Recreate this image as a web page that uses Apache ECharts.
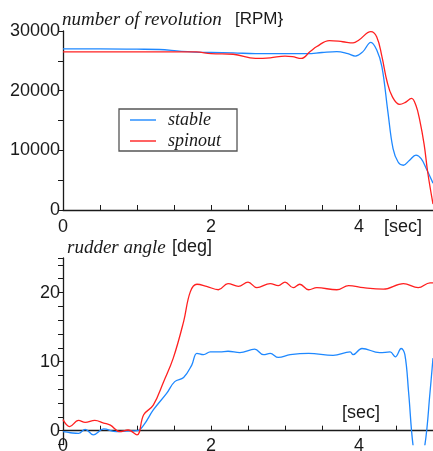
<!DOCTYPE html>
<html>
<head>
<meta charset="utf-8">
<script src="https://cdn.jsdelivr.net/npm/echarts@6.0.0/dist/echarts.min.js"></script>
<style>
  html, body { margin: 0; padding: 0; background: #fff; }
  #chart { width: 433px; height: 451px; }
</style>
</head>
<body>
<div id="chart"></div>
<script>
// number of revolution [RPM]
const rpmStableTime = [0, 0.5, 1.0, 1.3, 1.6, 2.0, 2.3, 2.6, 3.0, 3.3, 3.5, 3.7, 3.85, 3.95, 4.05, 4.16, 4.24, 4.31, 4.39, 4.46, 4.53, 4.6, 4.68, 4.77, 4.84, 4.91, 5.0]
const rpmStable = [27000, 27000, 26950, 26900, 26600, 26400, 26350, 26200, 26200, 26200, 26400, 26550, 26200, 25800, 26500, 28100, 26800, 24000, 16500, 10300, 8000, 7500, 8300, 9200, 8600, 6900, 4500]
const rpmSpinoutTime = [0, 0.5, 1.0, 1.5, 1.8, 2.0, 2.3, 2.6, 2.8, 3.0, 3.1, 3.22, 3.34, 3.43, 3.6, 3.78, 3.92, 4.0, 4.16, 4.24, 4.31, 4.38, 4.45, 4.55, 4.62, 4.71, 4.77, 4.82, 4.88, 4.93, 5.0]
const rpmSpinout = [26500, 26500, 26500, 26500, 26500, 26200, 26100, 25400, 25500, 25800, 25700, 25400, 26550, 27400, 28400, 28200, 28000, 28500, 29900, 29000, 25700, 21500, 19000, 17700, 18000, 18700, 17500, 15100, 11000, 6200, 1000]

// rudder angle [deg]
const rudStableTime = [0, 0.1, 0.21, 0.3, 0.41, 0.55, 0.72, 0.85, 1.0, 1.09, 1.22, 1.4, 1.51, 1.63, 1.74, 1.81, 1.9, 1.99, 2.12, 2.23, 2.39, 2.59, 2.71, 2.8, 2.91, 3.07, 3.32, 3.65, 3.88, 3.92, 4.04, 4.28, 4.42, 4.49, 4.57, 4.62, 4.67, 4.73, 4.8, 4.89, 4.96, 5.0]
const rudStable = [-0.15, -0.3, -0.4, 0.2, -0.6, 0.25, -0.15, -0.05, 0, 0.8, 3.0, 5.4, 7.1, 7.7, 9.5, 11.2, 11.0, 11.4, 11.4, 11.5, 11.3, 11.8, 11.0, 11.2, 10.6, 11.0, 11.2, 10.9, 11.4, 11.0, 11.9, 11.3, 11.4, 10.7, 11.9, 11.0, 5.6, -2.1, -6, -2.1, 5.6, 10.5]
const rudSpinoutTime = [0, 0.09, 0.21, 0.3, 0.43, 0.55, 0.64, 0.77, 0.88, 1.0, 1.09, 1.22, 1.36, 1.49, 1.63, 1.72, 1.81, 1.94, 2.1, 2.23, 2.37, 2.5, 2.62, 2.8, 2.91, 3.0, 3.11, 3.2, 3.32, 3.43, 3.7, 3.86, 4.06, 4.33, 4.6, 4.8, 4.96, 5.0]
const rudSpinout = [1.6, 0.6, 1.5, 1.2, 1.5, 1.1, 0.8, -0.15, 0.1, -0.6, 2.3, 3.7, 7.1, 10.5, 15.8, 20.1, 21.2, 20.9, 20.4, 21.3, 20.9, 21.5, 20.7, 21.3, 21.0, 21.5, 20.7, 21.2, 20.4, 20.7, 20.4, 21.0, 20.7, 20.5, 21.3, 20.7, 21.4, 21.4]

const BLUE = '#1e88ff'
const RED = '#ff2020'
const INK = '#1a1a1a'
const SANS = 'Liberation Sans'
const SERIF = 'Liberation Serif'

const pairs = (ts, vs) => ts.map((t, i) => [t, vs[i]])

const axisLineStyle = { lineStyle: { color: INK, width: 1.3 } }

const xAxisBase = (gridIndex, margin) => ({
  type: 'value',
  gridIndex,
  min: 0,
  max: 5,
  interval: 0.5,
  axisLine: { ...axisLineStyle, onZero: true },
  axisTick: { inside: true, length: 5, lineStyle: { color: INK } },
  splitLine: { show: false },
  axisLabel: {
    margin,
    color: INK,
    fontFamily: SANS,
    fontSize: 18,
    formatter: (v) => (Math.abs(v % 2) < 1e-9 ? String(v) : '')
  }
})

const chart = echarts.init(document.getElementById('chart'), null, { renderer: 'canvas' })

const option = {
  animation: false,
  backgroundColor: '#fff',
  grid: [
    { left: 63, top: 31, right: 0, height: 179, outerBoundsMode: 'none', containLabel: false },
    { left: 63, top: 258, right: 0, bottom: 6.5, outerBoundsMode: 'none', containLabel: false }
  ],
  xAxis: [xAxisBase(0, 8), xAxisBase(1, -7.5)],
  yAxis: [
    {
      type: 'value',
      gridIndex: 0,
      min: 0,
      max: 30000,
      interval: 5000,
      axisLine: { show: true, ...axisLineStyle },
      axisTick: { show: true, length: 5, lineStyle: { color: INK } },
      splitLine: { show: false },
      axisLabel: {
        margin: 3,
        color: INK,
        fontFamily: SANS,
        fontSize: 18,
        formatter: (v) => (v % 10000 === 0 ? String(v) : '')
      }
    },
    {
      type: 'value',
      gridIndex: 1,
      min: -2,
      max: 25,
      interval: 2,
      axisLine: { show: true, onZero: false, ...axisLineStyle },
      axisTick: { show: true, length: 5, lineStyle: { color: INK } },
      splitLine: { show: false },
      axisLabel: {
        margin: 3,
        color: INK,
        fontFamily: SANS,
        fontSize: 18,
        formatter: (v) => (v >= 0 && v <= 20 && v % 10 === 0 ? String(v) : '')
      }
    }
  ],
  legend: {
    data: ['stable', 'spinout'],
    orient: 'vertical',
    left: 119,
    top: 109,
    icon: 'rect',
    itemWidth: 26,
    itemHeight: 1.4,
    itemGap: 3,
    padding: [2, 16, 1, 11],
    borderColor: '#555',
    borderWidth: 1.3,
    selectedMode: false,
    textStyle: {
      fontFamily: SERIF,
      fontStyle: 'italic',
      fontSize: 18,
      color: INK,
      padding: [0, 0, 0, 7]
    }
  },
  graphic: [
    { type: 'text', left: 62, top: 10, style: { text: 'number of revolution', font: 'italic 19px "Liberation Serif"', fill: INK } },
    { type: 'text', left: 235, top: 11, style: { text: '[RPM}', font: '17px "Liberation Sans"', fill: INK } },
    { type: 'text', left: 384, top: 218, style: { text: '[sec]', font: '18px "Liberation Sans"', fill: INK } },
    { type: 'text', left: 67, top: 238, style: { text: 'rudder angle', font: 'italic 19px "Liberation Serif"', fill: INK } },
    { type: 'text', left: 172, top: 238, style: { text: '[deg]', font: '18px "Liberation Sans"', fill: INK } },
    { type: 'text', left: 342, top: 404, style: { text: '[sec]', font: '18px "Liberation Sans"', fill: INK } }
  ],
  series: [
    { name: 'stable', type: 'line', xAxisIndex: 0, yAxisIndex: 0, data: pairs(rpmStableTime, rpmStable), smooth: 0.4, symbol: 'none', lineStyle: { color: BLUE, width: 1.3 }, itemStyle: { color: BLUE } },
    { name: 'spinout', type: 'line', xAxisIndex: 0, yAxisIndex: 0, data: pairs(rpmSpinoutTime, rpmSpinout), smooth: 0.4, symbol: 'none', lineStyle: { color: RED, width: 1.3 }, itemStyle: { color: RED } },
    { name: 'stable', type: 'line', xAxisIndex: 1, yAxisIndex: 1, data: pairs(rudStableTime, rudStable), smooth: 0.4, symbol: 'none', lineStyle: { color: BLUE, width: 1.3 }, itemStyle: { color: BLUE } },
    { name: 'spinout', type: 'line', xAxisIndex: 1, yAxisIndex: 1, data: pairs(rudSpinoutTime, rudSpinout), smooth: 0.4, symbol: 'none', lineStyle: { color: RED, width: 1.3 }, itemStyle: { color: RED } }
  ]
}

chart.setOption(option)
</script>
</body>
</html>
